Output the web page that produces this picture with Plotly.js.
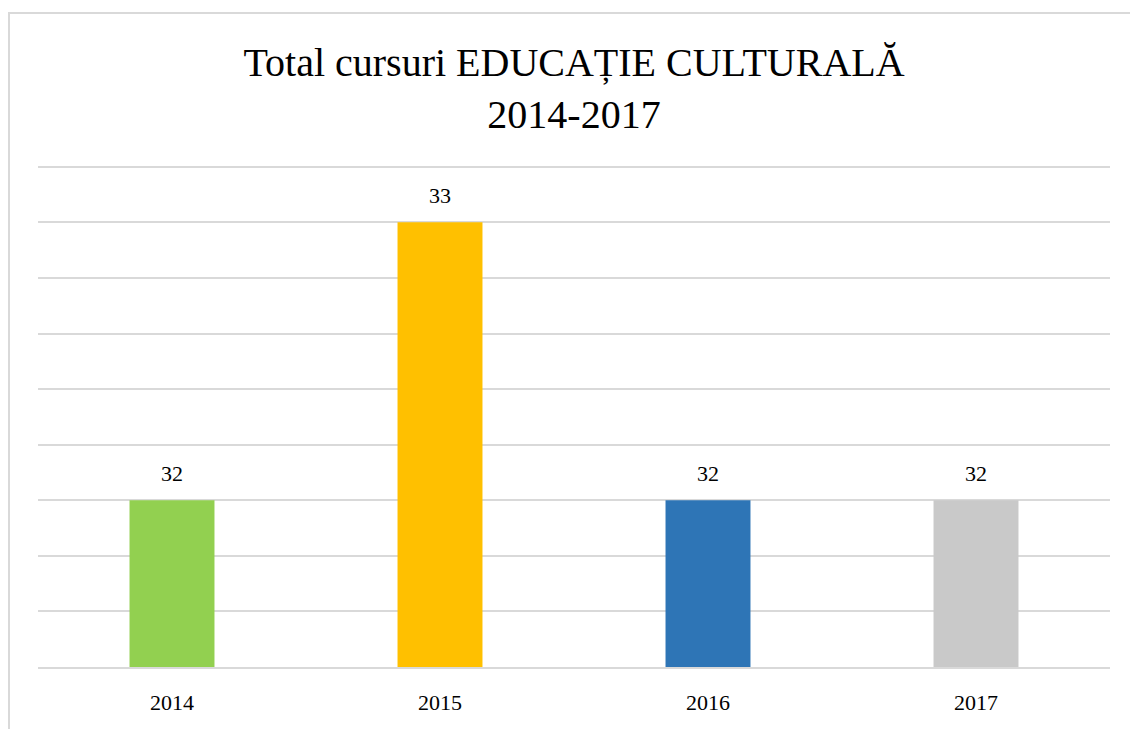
<!DOCTYPE html>
<html>
<head>
<meta charset="utf-8">
<script src="https://cdn.plot.ly/plotly-3.0.1.min.js"></script>
<style>
html,body{margin:0;padding:0;background:#fff;}
#frame{position:absolute;left:8px;top:12px;width:1140px;height:740px;border:2px solid #d9d9d9;box-sizing:border-box;}
#chart{position:absolute;left:0;top:0;width:1130px;height:729px;}
</style>
</head>
<body>
<div id="frame"></div>
<div id="chart"></div>
<script>
const years = ["2014", "2015", "2016", "2017"];
const totals = [32, 33, 32, 32];
const barColors = ["#92d050", "#ffc000", "#2e75b6", "#c9c9c9"];

const trace = {
  type: "bar",
  x: years,
  y: totals,
  marker: {color: barColors},
  width: 0.317,
  hoverinfo: "none"
};

const labelAnnotations = years.map((yr, i) => ({
  x: i,
  y: totals[i],
  xref: "x",
  yref: "y",
  text: String(totals[i]),
  showarrow: false,
  yanchor: "bottom",
  yshift: 12,
  font: {family: "Liberation Serif, serif", size: 22, color: "#000"}
}));

const layout = {
  width: 1130,
  height: 729,
  paper_bgcolor: "rgba(0,0,0,0)",
  plot_bgcolor: "rgba(0,0,0,0)",
  margin: {l: 38, r: 20, t: 164, b: 62},
  title: {
    text: "Total cursuri EDUCAȚIE CULTURALĂ<br>2014-2017",
    font: {family: "Liberation Serif, serif", size: 40, color: "#000"},
    xref: "paper",
    x: 0.5, xanchor: "center",
    y: 0.896, yanchor: "top"
  },
  xaxis: {
    type: "category",
    categoryorder: "array",
    categoryarray: years,
    range: [-0.5, 3.5],
    autorange: false,
    showgrid: false,
    showline: true,
    linecolor: "#d9d9d9",
    linewidth: 2,
    ticks: "",
    tickfont: {family: "Liberation Serif, serif", size: 22, color: "#000"},
    ticklabelstandoff: 15
  },
  yaxis: {
    range: [31.4, 33.21],
    autorange: false,
    dtick: 0.2,
    tick0: 31.4,
    showticklabels: false,
    gridcolor: "#d9d9d9",
    gridwidth: 2,
    zeroline: false,
    ticks: ""
  },
  annotations: labelAnnotations,
  showlegend: false
};

Plotly.newPlot("chart", [trace], layout, {displayModeBar: false, staticPlot: true});
</script>
</body>
</html>
